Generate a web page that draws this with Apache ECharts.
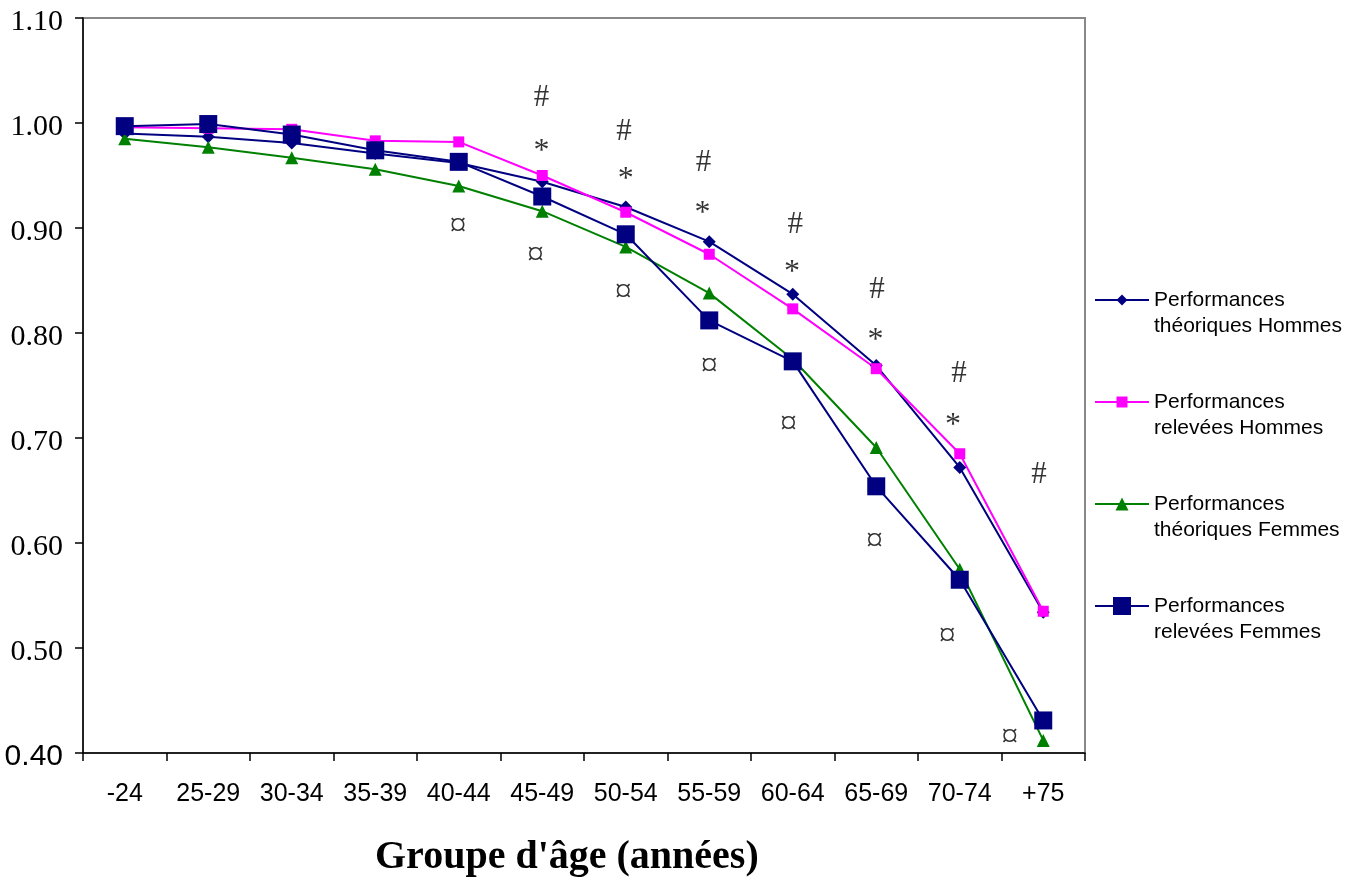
<!DOCTYPE html>
<html>
<head>
<meta charset="utf-8">
<script src="https://cdn.jsdelivr.net/npm/echarts@6/dist/echarts.min.js"></script>
<style>
html,body{margin:0;padding:0;background:#fff;}
#chart{width:1361px;height:878px;}
</style>
</head>
<body>
<div id="chart"></div>
<script>
const categories = ['-24','25-29','30-34','35-39','40-44','45-49','50-54','55-59','60-64','65-69','70-74','+75'];
const theoHommes  = [0.990, 0.987, 0.981, 0.971, 0.962, 0.944, 0.920, 0.887, 0.837, 0.769, 0.672, 0.534];
const relevHommes = [0.996, 0.995, 0.994, 0.983, 0.982, 0.950, 0.915, 0.875, 0.823, 0.766, 0.685, 0.535];
const theoFemmes  = [0.985, 0.977, 0.967, 0.956, 0.940, 0.916, 0.882, 0.838, 0.775, 0.691, 0.575, 0.412];
const relevFemmes = [0.997, 0.999, 0.989, 0.974, 0.963, 0.930, 0.894, 0.812, 0.773, 0.654, 0.565, 0.431];
const seriesNames = ['Performances théoriques Hommes','Performances relevées Hommes','Performances théoriques Femmes','Performances relevées Femmes'];
// significance marks: [category position, value]
const hashMarks = [[4.99,1.0235],[5.98,0.992],[6.93,0.9616],[8.03,0.903],[9.01,0.841],[9.99,0.761],[10.95,0.665]];
const starMarks = [[4.99,0.973],[6.0,0.946],[6.92,0.914],[7.99,0.858],[8.99,0.793],[9.92,0.712]];
const currencyMarks = [[3.99,0.901],[4.92,0.8735],[5.97,0.838],[7.0,0.7675],[7.95,0.7125],[8.98,0.6005],[9.85,0.510],[10.6,0.414]];

const SERIF = '"Liberation Serif","Times New Roman",serif';
const SANS = '"Liberation Sans",Arial,sans-serif';

const seriesColors = ['#000080', '#FF00FF', '#008000', '#000080'];
const seriesSymbols = ['diamond', 'rect', 'triangle', 'rect'];
const symbolSizes = [13, 11, 13, 18];
const legendSymbolSizes = [11, 11, 13, 18];
const legendCenters = [300, 402, 504, 606];

const chart = echarts.init(document.getElementById('chart'));

function markSeries(data, text, size) {
  return {
    type: 'scatter', xAxisIndex: 1, data: data, symbolSize: 1, silent: true, z: 5,
    itemStyle: {color: 'transparent'},
    label: {show: true, position: 'inside', formatter: text, color: '#000',
            fontFamily: SERIF, fontSize: size, align: 'center', verticalAlign: 'middle'}
  };
}

const seriesData = [theoHommes, relevHommes, theoFemmes, relevFemmes];

const legends = seriesNames.map((n, i) => ({
  orient: 'vertical', left: 1094, top: legendCenters[i] - 39, itemWidth: 54,
  itemHeight: legendSymbolSizes[i] / 0.8, selectedMode: false, padding: 0,
  formatter: name => '\n' + name.replace(' ', '\n'),
  textStyle: {fontFamily: SANS, fontSize: 21, lineHeight: 26, color: '#000'},
  data: [n]
}));

chart.setOption({
  animation: false,
  backgroundColor: '#fff',
  title: {
    text: "Groupe d'âge (années)", left: 375, top: 838, padding: 0,
    textStyle: {fontFamily: SERIF, fontWeight: 'bold', fontSize: 40, color: '#000'}
  },
  grid: {left: 83, top: 18, width: 1002, height: 735, show: true, borderColor: '#888', borderWidth: 2, backgroundColor: '#fff'},
  legend: legends,
  xAxis: [{
    type: 'category', data: categories, boundaryGap: true,
    axisLine: {onZero: false, lineStyle: {color: '#000', width: 1.5}},
    axisTick: {show: true, length: 8, alignWithLabel: false, lineStyle: {color: '#000', width: 1.5}},
    axisLabel: {interval: 0, margin: 29, fontFamily: SANS, fontSize: 25, color: '#000'},
    splitLine: {show: false}
  }, {
    type: 'value', min: -0.5, max: 11.5, show: false
  }],
  yAxis: {
    type: 'value', min: 0.4, max: 1.1, interval: 0.1,
    axisLine: {show: true, onZero: false, lineStyle: {color: '#000', width: 1.5}},
    axisTick: {show: true, length: 8, lineStyle: {color: '#000', width: 1.5}},
    splitLine: {show: false},
    axisLabel: {
      margin: 20, color: '#000', fontFamily: SERIF, fontSize: 30, padding: [8, 0, 0, 0],
      formatter: v => Math.abs(v - 0.4) < 1e-6 ? '{s|' + v.toFixed(2) + '}' : v.toFixed(2),
      rich: {s: {fontFamily: SANS, fontSize: 30, color: '#000'}}
    }
  },
  series: seriesNames.map((n, i) => ({
    name: n, type: 'line', data: seriesData[i], symbol: seriesSymbols[i], symbolSize: symbolSizes[i],
    itemStyle: {color: seriesColors[i]}, lineStyle: {color: seriesColors[i], width: 2}, z: 2
  })).concat([
    markSeries(hashMarks, '#', 31),
    markSeries(starMarks, '*', 32),
    markSeries(currencyMarks, '¤', 34)
  ])
});
</script>
</body>
</html>
